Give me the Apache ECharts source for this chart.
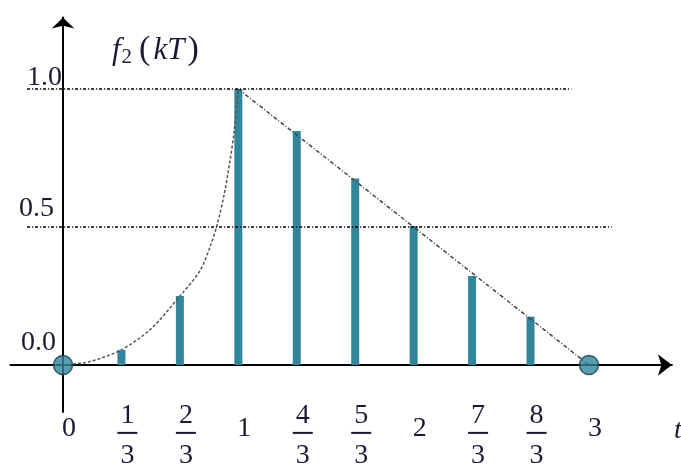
<!DOCTYPE html>
<html>
<head>
<meta charset="utf-8">
<script src="https://cdn.jsdelivr.net/npm/echarts@6/dist/echarts.min.js"></script>
<style>html,body{margin:0;padding:0;background:#fff}#c{width:681px;height:465px}</style>
</head>
<body>
<div id="c"></div>
<script>
// sample instants (t = kT, T = 1/3) and sampled values f2(kT)
var sampleT = [1/3, 2/3, 1, 4/3, 5/3, 2, 7/3, 8/3];
var sampleV = [0.054, 0.25, 1.0, 0.848, 0.676, 0.504, 0.322, 0.175];
// end-point samples drawn as circles
var endT = [0, 3];
var endV = [0, 0];
// continuous rising curve
var curveT = [0, 0.15, 0.33, 0.5, 0.667, 0.78, 0.84, 0.88, 0.92, 0.95, 0.975, 1.0];
var curveV = [0, 0.012, 0.054, 0.13, 0.25, 0.34, 0.43, 0.51, 0.62, 0.73, 0.84, 1.0];
// straight falling segment
var lineT = [1, 3];
var lineV = [1, 0];
// tick values and labels
var xTickValues = [0, 1/3, 2/3, 1, 4/3, 5/3, 2, 7/3, 8/3, 3];
var xTickLabels = ['0', '1/3', '2/3', '1', '4/3', '5/3', '2', '7/3', '8/3', '3'];
var yTickValues = [0, 0.5, 1];
var yTickLabels = ['0.0', '0.5', '1.0'];
// dotted reference levels and their horizontal extents
var guideLevels = [1.0, 0.5];
var guideStart = [-0.205, -0.205];
var guideEnd = [2.90, 3.13];

var TXT = '#1a1a33';
var TEAL = '#31859C';
var SERIF = '"Liberation Serif", "DejaVu Serif", serif';

function zip(a, b) { return a.map(function (v, i) { return [v, b[i]]; }); }

var chart = echarts.init(document.getElementById('c'), null, {renderer: 'canvas'});

var xLabelMap = {};
xTickValues.forEach(function (v, i) { xLabelMap[v.toFixed(4)] = xTickLabels[i]; });
var yLabelMap = {};
yTickValues.forEach(function (v, i) { yLabelMap[v.toFixed(4)] = yTickLabels[i]; });

var option = {
  animation: false,
  backgroundColor: '#ffffff',
  grid: {left: 10.4, top: 17.5, width: 661.5, height: 394.4, containLabel: false, outerBoundsMode: 'none'},
  xAxis: {
    type: 'value', min: -0.3, max: 3.473,
    name: 't', nameLocation: 'end', nameGap: 2,
    nameTextStyle: {fontFamily: SERIF, fontStyle: 'italic', fontSize: 28, color: TXT, align: 'left', verticalAlign: 'top', padding: [52, 0, 0, 0]},
    axisLine: {show: true, onZero: true, lineStyle: {color: '#000', width: 2}, symbol: ['none', 'arrow'], symbolSize: [16, 14]},
    axisTick: {show: false},
    splitLine: {show: false},
    axisLabel: {
      customValues: xTickValues,
      margin: -10,
      verticalAlign: 'top',
      padding: [0, 0, 0, 12],
      formatter: function (v) {
        var s = xLabelMap[Number(v).toFixed(4)] || '';
        if (s.indexOf('/') >= 0) {
          var p = s.split('/');
          return '{n|' + p[0] + '}\n{l| }\n{d|' + p[1] + '}';
        }
        return '{w|' + s + '}';
      },
      rich: {
        w: {fontFamily: SERIF, fontSize: 28, color: TXT, lineHeight: 30, padding: [23, 0, 0, 0]},
        n: {fontFamily: SERIF, fontSize: 28, color: TXT, lineHeight: 28, align: 'center'},
        l: {width: 20, height: 2, lineHeight: 6, backgroundColor: TXT, fontSize: 2, align: 'center'},
        d: {fontFamily: SERIF, fontSize: 28, color: TXT, lineHeight: 40, align: 'center'}
      }
    }
  },
  yAxis: {
    type: 'value', min: -0.17, max: 1.259,
    name: '{i|f}{s|2}{p|(}{i|kT}{p|)}', nameLocation: 'end', nameGap: -33,
    nameTextStyle: {
      align: 'left', verticalAlign: 'middle', padding: [0, 0, 0, 49],
      rich: {
        i: {fontFamily: SERIF, fontStyle: 'italic', fontSize: 31, color: TXT, lineHeight: 34},
        s: {fontFamily: SERIF, fontSize: 21, color: TXT, lineHeight: 18, verticalAlign: 'bottom', padding: [0, 4, 0, 1]},
        p: {fontFamily: SERIF, fontSize: 34, color: TXT, lineHeight: 34, padding: [0, 3, 0, 3]}
      }
    },
    axisLine: {show: true, onZero: true, lineStyle: {color: '#000', width: 2}, symbol: ['none', 'arrow'], symbolSize: [17, 11]},
    axisTick: {show: false},
    splitLine: {show: false},
    axisLabel: {
      customValues: yTickValues,
      margin: -52.6,
      verticalAlign: 'bottom',
      align: 'right',
      formatter: function (v) {
        var s = yLabelMap[Number(v).toFixed(4)] || '';
        var k = s === '1.0' ? 'a' : (s === '0.5' ? 'b' : 'c');
        return '{' + k + '|' + s + '}';
      },
      rich: {
        a: {fontFamily: SERIF, fontSize: 28, color: TXT, lineHeight: 22, width: 36, align: 'left'},
        b: {fontFamily: SERIF, fontSize: 28, color: TXT, lineHeight: 36, width: 44, align: 'left'},
        c: {fontFamily: SERIF, fontSize: 28, color: TXT, lineHeight: 44, width: 42, align: 'left'}
      }
    }
  },
  series: [
    {
      type: 'bar', name: 'samples', barWidth: 8, z: 2,
      itemStyle: {color: TEAL},
      data: zip(sampleT, sampleV),
      markLine: {
        silent: true, symbol: ['none', 'none'], label: {show: false},
        lineStyle: {color: '#000', width: 1.5, type: [3, 2, 1, 2]},
        data: guideLevels.map(function (lv, i) {
          return [{coord: [guideStart[i], lv]}, {coord: [guideEnd[i], lv]}];
        })
      }
    },
    {
      type: 'line', name: 'curve', smooth: 0.3, showSymbol: false, z: 3,
      lineStyle: {color: '#555', width: 1.5, type: [3, 2]},
      data: zip(curveT, curveV)
    },
    {
      type: 'line', name: 'ramp', showSymbol: false, z: 3,
      lineStyle: {color: '#444', width: 1.5, type: [4, 2, 1, 2]},
      data: zip(lineT, lineV)
    },
    {
      type: 'scatter', name: 'ends', symbol: 'circle', symbolSize: 19, z: 5,
      itemStyle: {color: TEAL, borderColor: '#17404a', borderWidth: 1.5},
      data: zip(endT, endV)
    }
  ]
};
chart.setOption(option);
</script>
</body>
</html>
